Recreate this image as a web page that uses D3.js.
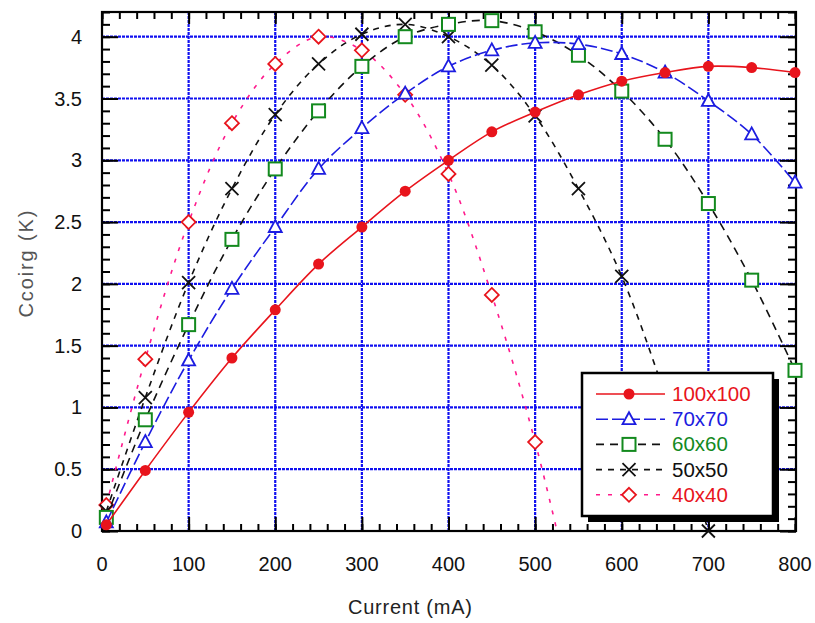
<!DOCTYPE html>
<html>
<head>
<meta charset="utf-8">
<script src="https://cdn.jsdelivr.net/npm/d3@7"></script>
<style>
  body { margin: 0; background: #fff; }
  text { font-family: "Liberation Sans", Arial, sans-serif; }
</style>
</head>
<body>
<div id="chart"></div>
<script>
// chart size
var svgWidth = 815, svgHeight = 623;
var margin = {top: 12, right: 19, bottom: 92, left: 102};

// data (current in mA, value in K)
var current = [5, 50, 100, 150, 200, 250, 300, 350, 400, 450, 500, 550, 600, 650, 700, 750, 800];
var s100 = [0.05, 0.49, 0.96, 1.40, 1.79, 2.16, 2.46, 2.75, 3.00, 3.23, 3.39, 3.53, 3.64, 3.71, 3.76, 3.75, 3.71];
var s70  = [0.07, 0.72, 1.38, 1.96, 2.46, 2.93, 3.26, 3.54, 3.76, 3.89, 3.95, 3.94, 3.86, 3.71, 3.48, 3.21, 2.82];
var s60  = [0.11, 0.90, 1.67, 2.36, 2.93, 3.40, 3.76, 4.00, 4.10, 4.13, 4.04, 3.85, 3.56, 3.17, 2.65, 2.03, 1.30];
var s50  = [0.16, 1.08, 2.01, 2.77, 3.37, 3.78, 4.02, 4.10, 4.00, 3.77, 3.36, 2.77, 2.06, 1.10, 0.00];
var s40  = [0.21, 1.39, 2.50, 3.30, 3.78, 4.00, 3.89, 3.53, 2.89, 1.91, 0.72, -0.75];

var seriesNames = ["100x100", "70x70", "60x60", "50x50", "40x40"];
var seriesValues = [s100, s70, s60, s50, s40];

var xTicks = [0, 100, 200, 300, 400, 500, 600, 700, 800];
var yTicks = [0, 0.5, 1, 1.5, 2, 2.5, 3, 3.5, 4];
var yTickLabels = ["0", "0.5", "1", "1.5", "2", "2.5", "3", "3.5", "4"];

// styles per series
var lineColor  = ["#e8141c", "#1c1ce0", "#111", "#111", "#ff1a8c"];
var lineDash   = [null, "12,4", "8,6", "6,6", "4,8"];
var markColor  = ["#e8141c", "#1c1ce0", "#138a1e", "#111", "#e8141c"];
var textColor  = ["#e8141c", "#1c1ce0", "#138a1e", "#111", "#e8141c"];
var markType   = ["circle", "triangle", "square", "cross", "diamond"];

var width = svgWidth - margin.left - margin.right;
var height = svgHeight - margin.top - margin.bottom;

var svg = d3.select("#chart").append("svg")
    .attr("width", svgWidth)
    .attr("height", svgHeight);

var g = svg.append("g").attr("transform", "translate(" + margin.left + "," + margin.top + ")");

var x = d3.scaleLinear().domain([0, 800]).range([0, width - 1]);
var y = d3.scaleLinear().domain([0, 4.2]).range([height, 0]);

g.append("clipPath").attr("id", "plotclip")
  .append("rect").attr("width", width).attr("height", height);

// grid
g.append("g").selectAll("line.gx").data(xTicks.slice(1, -1)).enter().append("line")
    .attr("x1", d => x(d)).attr("x2", d => x(d))
    .attr("y1", 0).attr("y2", height)
    .attr("stroke", "#1010f0").attr("stroke-width", 2.2).attr("stroke-dasharray", "3,1");
g.append("g").selectAll("line.gy").data(yTicks.slice(1)).enter().append("line")
    .attr("x1", 0).attr("x2", width)
    .attr("y1", d => y(d)).attr("y2", d => y(d))
    .attr("stroke", "#1010f0").attr("stroke-width", 2.2).attr("stroke-dasharray", "3,1");

// ticks (inward) on all four sides
var minorX = d3.range(0, 801, 20), minorY = d3.range(0, 4.21, 0.1);
function styleAxis(sel) {
  sel.select(".domain").remove();
  sel.selectAll(".tick line").attr("stroke", "#000").attr("stroke-width", 2);
  sel.selectAll("text").remove();
}
g.append("g").attr("transform", "translate(0," + height + ")")
  .call(d3.axisBottom(x).tickValues(minorX).tickSize(-7)).call(styleAxis);
g.append("g").attr("transform", "translate(0," + height + ")")
  .call(d3.axisBottom(x).tickValues(xTicks).tickSize(-14)).call(styleAxis);
g.append("g")
  .call(d3.axisTop(x).tickValues(minorX).tickSize(-7)).call(styleAxis);
g.append("g")
  .call(d3.axisTop(x).tickValues(xTicks).tickSize(-12)).call(styleAxis);
g.append("g")
  .call(d3.axisLeft(y).tickValues(minorY).tickSize(-8)).call(styleAxis);
g.append("g")
  .call(d3.axisLeft(y).tickValues(yTicks).tickSize(-16)).call(styleAxis);
g.append("g").attr("transform", "translate(" + width + ",0)")
  .call(d3.axisRight(y).tickValues(minorY).tickSize(-8)).call(styleAxis);
g.append("g").attr("transform", "translate(" + width + ",0)")
  .call(d3.axisRight(y).tickValues(yTicks).tickSize(-16)).call(styleAxis);

// frame
g.append("rect").attr("width", width).attr("height", height)
  .attr("fill", "none").attr("stroke", "#000").attr("stroke-width", 2.2);

// tick labels
g.append("g").selectAll("text").data(xTicks).enter().append("text")
  .attr("x", d => x(d)).attr("y", height + 40)
  .attr("text-anchor", "middle").attr("font-size", 20).attr("fill", "#111")
  .text(d => d);
g.append("g").selectAll("text").data(yTicks).enter().append("text")
  .attr("x", -20).attr("y", d => y(d) + 7)
  .attr("text-anchor", "end").attr("font-size", 20).attr("fill", "#111")
  .text((d, i) => yTickLabels[i]);

// axis titles
svg.append("text").attr("x", 410).attr("y", 614)
  .attr("text-anchor", "middle").attr("font-size", 20).attr("fill", "#222")
  .attr("textLength", 124).attr("lengthAdjust", "spacing")
  .text("Current (mA)");
svg.append("text").attr("transform", "translate(33,264) rotate(-90)")
  .attr("text-anchor", "middle").attr("font-size", 20).attr("fill", "#555")
  .attr("textLength", 107).attr("lengthAdjust", "spacing")
  .text("Ccoirg (K)");

// marker drawing
function drawMarker(sel, type, color) {
  if (type === "circle") {
    sel.append("circle").attr("r", 5.5).attr("fill", color);
  } else if (type === "triangle") {
    sel.append("path").attr("d", "M0,-7L6.5,5L-6.5,5Z")
      .attr("fill", "#fff").attr("stroke", color).attr("stroke-width", 1.8);
  } else if (type === "square") {
    sel.append("rect").attr("x", -6.5).attr("y", -6.5).attr("width", 13).attr("height", 13)
      .attr("fill", "#fff").attr("stroke", color).attr("stroke-width", 2);
  } else if (type === "cross") {
    sel.append("path").attr("d", "M-6.5,-6.5L6.5,6.5M-6.5,6.5L6.5,-6.5")
      .attr("fill", "none").attr("stroke", color).attr("stroke-width", 1.8);
  } else if (type === "diamond") {
    sel.append("path").attr("d", "M0,-7L7,0L0,7L-7,0Z")
      .attr("fill", "#fff").attr("stroke", color).attr("stroke-width", 1.8);
  }
}

var line = d3.line()
  .x(d => x(d[0]))
  .y(d => y(d[1]))
  .curve(d3.curveCatmullRom.alpha(0.5));

// draw series, last first so 100x100 sits on top
for (var k = seriesValues.length - 1; k >= 0; k--) {
  var pts = seriesValues[k].map((v, i) => [current[i], v]);
  g.append("path")
    .attr("clip-path", "url(#plotclip)")
    .attr("d", line(pts))
    .attr("fill", "none")
    .attr("stroke", lineColor[k])
    .attr("stroke-width", 1.6)
    .attr("stroke-dasharray", lineDash[k]);
  var marks = g.append("g").selectAll("g")
    .data(pts.filter(p => p[1] >= 0)).enter().append("g")
    .attr("transform", d => "translate(" + x(d[0]) + "," + y(d[1]) + ")");
  drawMarker(marks, markType[k], markColor[k]);
}

// legend
var lg = svg.append("g").attr("transform", "translate(582,373)");
var lw = 191, lh = 143;
lg.append("rect").attr("x", 6).attr("y", 6).attr("width", lw).attr("height", lh).attr("fill", "#000");
lg.append("rect").attr("width", lw).attr("height", lh)
  .attr("fill", "#fff").attr("stroke", "#000").attr("stroke-width", 2.5);
seriesNames.forEach(function(name, i) {
  var row = lg.append("g").attr("transform", "translate(0," + (21 + i * 25.2) + ")");
  row.append("line").attr("x1", 14).attr("x2", 83)
    .attr("stroke", lineColor[i]).attr("stroke-width", 1.6)
    .attr("stroke-dasharray", lineDash[i]);
  var m = row.append("g").attr("transform", "translate(47,0)");
  drawMarker(m, markType[i], markColor[i]);
  row.append("text").attr("x", 90).attr("y", 7)
    .attr("font-size", 20.5).attr("fill", textColor[i]).text(name);
});
</script>
</body>
</html>
